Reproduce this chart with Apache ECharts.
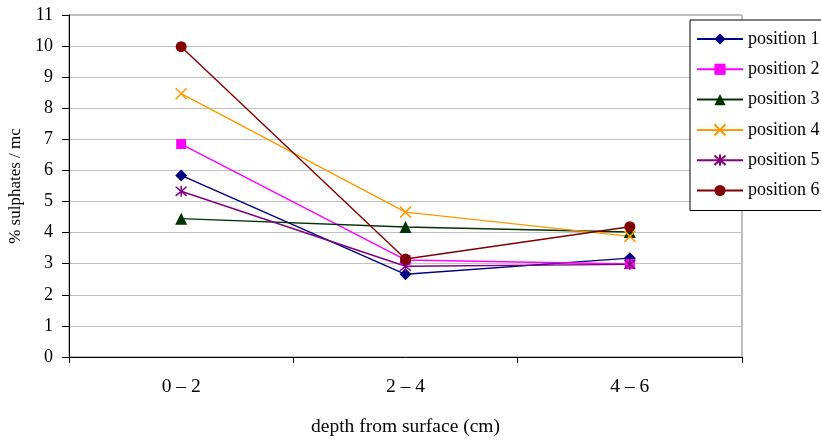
<!DOCTYPE html>
<html><head><meta charset="utf-8">
<script src="https://cdn.jsdelivr.net/npm/echarts@6/dist/echarts.min.js"></script>
<style>html,body{margin:0;padding:0;background:#fff}#c{width:821px;height:440px}</style>
</head><body><div id="c"></div>
<script>
const categories = ['0 – 2', '2 – 4', '4 – 6'];
const position1 = [5.84, 2.66, 3.18];
const position2 = [6.85, 3.12, 2.99];
const position3 = [4.45, 4.18, 4.02];
const position4 = [8.47, 4.66, 3.88];
const position5 = [5.33, 2.92, 2.98];
const position6 = [9.98, 3.15, 4.19];
const seriesNames = ['position 1','position 2','position 3','position 4','position 5','position 6'];
const yTicks = [0,1,2,3,4,5,6,7,8,9,10,11];

const FONT = 'Liberation Serif';
const X_PATH = 'path://M0,0 L10,10 M10,0 L0,10';
const STAR_PATH = 'path://M0,0 L10,10 M10,0 L0,10 M5,-1 L5,11';
const styles = [
  {c:'#000080', symbol:'diamond', size:12, stroke:false},
  {c:'#FF00FF', symbol:'rect', size:10, stroke:false},
  {c:'#003300', symbol:'triangle', size:12, stroke:false},
  {c:'#FF9900', symbol:X_PATH, size:11, stroke:true},
  {c:'#800080', symbol:STAR_PATH, size:11, stroke:true},
  {c:'#800000', symbol:'circle', size:11, stroke:false}
];
const allData = [position1, position2, position3, position4, position5, position6];

const series = allData.map((d, i) => {
  const s = styles[i];
  return {
    name: seriesNames[i], type: 'line', data: d,
    symbol: s.symbol, symbolSize: s.size, showAllSymbol: true,
    lineStyle: {color: s.c, width: 1.4},
    itemStyle: s.stroke ? {color: 'rgba(0,0,0,0)', borderColor: s.c, borderWidth: 1.5} : {color: s.c, borderWidth: 0},
    emphasis: {disabled: true},
    animation: false
  };
});

const chart = echarts.init(document.getElementById('c'), null, {renderer: 'canvas'});
chart.setOption({
  backgroundColor: '#fff',
  animation: false,
  grid: {left: 69, right: 79, top: 15, bottom: 83, containLabel: false, outerBoundsMode: 'none',
         show: true, borderColor: '#808080', borderWidth: 1, backgroundColor: 'transparent'},
  legend: {
    orient: 'vertical', left: 690, top: 20,
    padding: [10, 40, 11, 6],
    itemWidth: 46, itemHeight: 14, itemGap: 12.3,
    borderColor: '#000', borderWidth: 1, backgroundColor: '#fff',
    textStyle: {fontFamily: FONT, fontSize: 18, color: '#000', lineHeight: 18},
    data: seriesNames
  },
  xAxis: {
    type: 'category', data: categories, boundaryGap: true,
    name: 'depth from surface (cm)', nameLocation: 'middle', nameGap: 60,
    nameTextStyle: {fontFamily: FONT, fontSize: 19.5, color: '#000'},
    axisLine: {lineStyle: {color: '#000', width: 1}},
    axisTick: {show: true, length: 6, lineStyle: {color: '#000'}},
    axisLabel: {fontFamily: FONT, fontSize: 19.5, color: '#000', margin: 20},
    splitLine: {show: false}
  },
  yAxis: {
    type: 'value', min: yTicks[0], max: yTicks[yTicks.length-1], interval: 1,
    name: '% sulphates / mc', nameLocation: 'middle', nameGap: 42, nameRotate: 90,
    nameTextStyle: {fontFamily: FONT, fontSize: 17, color: '#000'},
    axisLine: {show: true, lineStyle: {color: '#000', width: 1}},
    axisTick: {show: true, length: 7, lineStyle: {color: '#000'}},
    axisLabel: {fontFamily: FONT, fontSize: 18, color: '#000', margin: 16},
    splitLine: {show: true, lineStyle: {color: '#c0c0c0', width: 1}}
  },
  series: series
});
</script></body></html>
